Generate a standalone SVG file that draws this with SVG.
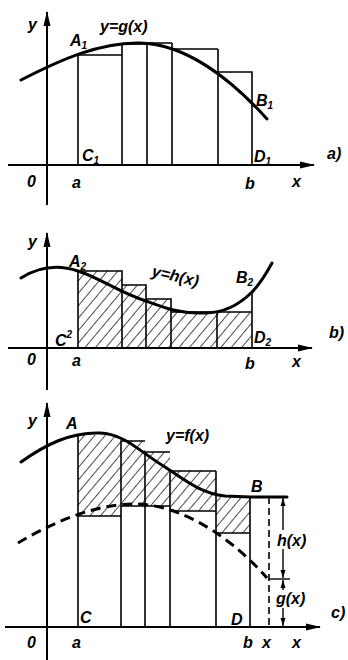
<svg xmlns="http://www.w3.org/2000/svg" width="348" height="660" viewBox="0 0 348 660">
<style>
.ax{stroke:#000;stroke-width:2;fill:none}
.rl{stroke:#000;stroke-width:1.6;fill:none}
.cv{stroke:#000;stroke-width:3;fill:none;stroke-linecap:round}
.dc{stroke:#000;stroke-width:3;fill:none;stroke-dasharray:10 6}
.dv{stroke:#000;stroke-width:1.6;fill:none;stroke-dasharray:7 4}
.dm{stroke:#000;stroke-width:1.4;fill:none}
text{font-family:"Liberation Sans",Arial,sans-serif;font-weight:bold;font-style:italic;font-size:16px;fill:#000}
.sb{font-size:10px}
.ht{fill:url(#hatch);stroke:none}
</style>
<defs>
<pattern id="hatch" patternUnits="userSpaceOnUse" width="8" height="8" patternTransform="rotate(40)">
<line x1="0" y1="0" x2="0" y2="8" stroke="#000" stroke-width="1.4"/>
</pattern>
<marker id="ah" markerUnits="userSpaceOnUse" markerWidth="16" markerHeight="8" refX="14" refY="4" orient="auto">
<path d="M0,0.5 L15,4 L0,7.5 z" fill="#000"/>
</marker>
<marker id="sa" markerUnits="userSpaceOnUse" markerWidth="9" markerHeight="6" refX="8" refY="3" orient="auto">
<path d="M0,0.5 L8,3 L0,5.5 z" fill="#000"/>
</marker>
</defs>

<!-- Panel a -->
<g id="panel-a">
<g id="axes-a">
<line class="ax" x1="8" y1="165" x2="314" y2="165" marker-end="url(#ah)"/>
<line class="ax" x1="47" y1="205" x2="47" y2="12" marker-end="url(#ah)"/>
</g>
<g id="rects-a">
<path class="rl" d="M78,165 V55 H122 M122,165 V44 H147 M147,165 V43 H172 M172,165 V43 M172,49 H218 M218,165 V49 M218,72 H252 V165"/>
</g>
<g id="curve-a">
<path class="cv" d="M21,80 C60,60 100,42 140,43 C185,44 230,78 267,119"/>
</g>
<g id="labels-a">
<text x="28" y="30">y</text>
<text x="70" y="46">A<tspan class="sb" dy="3">1</tspan></text>
<text x="100" y="32">y=g(x)</text>
<text x="256" y="106">B<tspan class="sb" dy="3">1</tspan></text>
<text x="82" y="161">C<tspan class="sb" dy="3">1</tspan></text>
<text x="254" y="162">D<tspan class="sb" dy="3">1</tspan></text>
<text x="327" y="159">a)</text>
<text x="27" y="187">0</text>
<text x="72" y="188">a</text>
<text x="245" y="189">b</text>
<text x="292" y="187">x</text>
</g>
</g>

<!-- Panel b -->
<g id="panel-b">
<g id="axes-b">
<line class="ax" x1="8" y1="348" x2="312" y2="348" marker-end="url(#ah)"/>
<line class="ax" x1="47" y1="390" x2="47" y2="233" marker-end="url(#ah)"/>
</g>
<g id="hatch-b">
<path class="ht" d="M78,348 V271 H122 V285 H146 V299 H171 V312 H252 V348 Z"/>
</g>
<g id="rects-b">
<path class="rl" d="M78,348 V271 H122 V348 M122,285 H146 V348 M146,299 H171 V348 M171,312 H252 M217,348 V312 M252,348 V292"/>
</g>
<g id="curve-b">
<path class="cv" d="M21,278 C40,266 60,265 78,271 C100,278 120,293 146,301 C165,308 180,314 205,313 C225,313 240,304 252,292 C260,284 266,274 272,263"/>
</g>
<g id="labels-b">
<text x="28" y="247">y</text>
<text x="69" y="267">A<tspan class="sb" dy="3">2</tspan></text>
<text x="151" y="276" font-size="17" transform="rotate(13 151 276)">y=h(x)</text>
<text x="236" y="283">B<tspan class="sb" dy="3">2</tspan></text>
<text x="55" y="346">C<tspan class="sb" dy="-8">2</tspan></text>
<text x="254" y="343">D<tspan class="sb" dy="3">2</tspan></text>
<text x="329" y="338">b)</text>
<text x="27" y="365">0</text>
<text x="72" y="366">a</text>
<text x="245" y="369">b</text>
<text x="292" y="367">x</text>
</g>
</g>

<!-- Panel c -->
<g id="panel-c">
<g id="axes-c">
<line class="ax" x1="5" y1="627" x2="320" y2="627" marker-end="url(#ah)"/>
<line class="ax" x1="47" y1="660" x2="47" y2="403" marker-end="url(#ah)"/>
</g>
<g id="hatch-c">
<path class="ht" d="M78,516 V435 H121 V441 H145 V452 H170 V471 H216 V497 H250 V533 H216 V511 H170 V506 H121 V516 Z"/>
</g>
<g id="rects-c">
<path class="rl" d="M78,627 V435 M121,627 V441 H145 M145,627 V452 H170 M170,627 V471 H216 M216,627 V471 M250,627 V497 M78,516 H121 M121,506 H170 M170,511 H216 M216,533 H250"/>
</g>
<g id="curves-c">
<path class="cv" d="M21,462 C45,445 70,432 100,433 C125,434 140,452 165,467 C185,480 200,493 225,496 L250,497 L287,497"/>
<path class="dc" d="M18,543 C45,527 90,504 135,504 C170,504 220,525 267,578"/>
</g>
<g id="dimension-c">
<line class="dv" x1="269" y1="497" x2="269" y2="627"/>
<line class="dm" x1="268" y1="579" x2="290" y2="579"/>
<line class="dm" x1="283" y1="530" x2="283" y2="498" marker-end="url(#sa)"/>
<line class="dm" x1="283" y1="549" x2="283" y2="578" marker-end="url(#sa)"/>
<line class="dm" x1="283" y1="590" x2="283" y2="580" marker-end="url(#sa)"/>
<line class="dm" x1="283" y1="608" x2="283" y2="626" marker-end="url(#sa)"/>
</g>
<g id="labels-c">
<text x="28" y="426">y</text>
<text x="66" y="429">A</text>
<text x="166" y="441">y=f(x)</text>
<text x="251" y="492">B</text>
<text x="277" y="546">h(x)</text>
<text x="276" y="604">g(x)</text>
<text x="80" y="623">C</text>
<text x="231" y="625">D</text>
<text x="331" y="618">c)</text>
<text x="27" y="648">0</text>
<text x="72" y="648">a</text>
<text x="243" y="648">b</text>
<text x="262" y="648">x</text>
<text x="292" y="648">x</text>
</g>
</g>
</svg>
